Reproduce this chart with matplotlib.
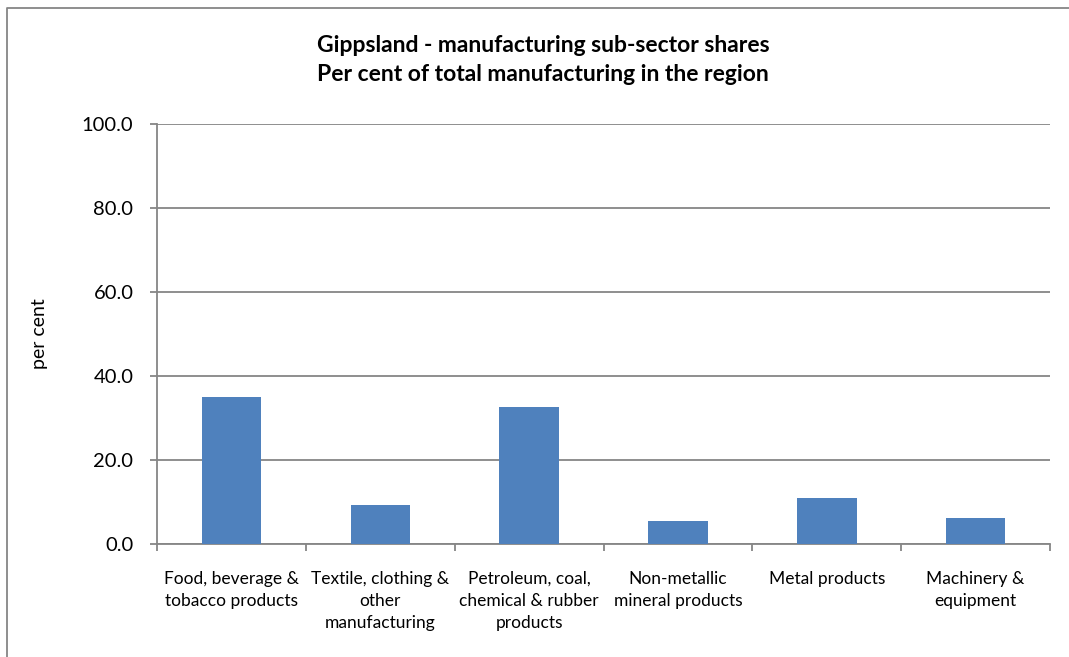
import matplotlib.pyplot as plt
import numpy as np
from matplotlib.lines import Line2D

# Manufacturing sub-sector shares, per cent of total
categories = [
    "Food, beverage &\ntobacco products",
    "Textile, clothing &\nother\nmanufacturing",
    "Petroleum, coal,\nchemical & rubber\nproducts",
    "Non-metallic\nmineral products",
    "Metal products",
    "Machinery &\nequipment",
]
shares = [35.0, 9.4, 32.6, 5.4, 11.0, 6.2]
yticks = [0.0, 20.0, 40.0, 60.0, 80.0, 100.0]

plt.rcParams["font.family"] = ["Lato", "DejaVu Sans"]
grey = "#868686"

fig = plt.figure(figsize=(10.69, 6.57), dpi=100)
ax = fig.add_axes([0.1469, 0.172, 0.8353, 0.6393])

# chart area border (left and top edges only in view)
bx, by = 7 / 1069, 1 - 8 / 657
fig.add_artist(Line2D([bx, bx, 1.0], [0.0, by, by], transform=fig.transFigure,
                      color=grey, linewidth=1.3))

x = np.arange(len(categories))
ax.bar(x, shares, width=0.4, color="#4F81BD", zorder=3)

ax.set_xlim(-0.5, len(categories) - 0.5)
ax.set_ylim(0, 100)
ax.set_yticks(yticks)
ax.set_yticklabels(["%.1f" % v for v in yticks], fontsize=14.5)
ax.yaxis.grid(True, color=grey, linewidth=1.3, zorder=0)

# ticks between categories, labels centred under bars
ax.set_xticks(np.arange(len(categories) + 1) - 0.5)
ax.set_xticklabels([])
ax.set_xticks(x, minor=True)
ax.set_xticklabels(categories, minor=True, fontsize=12.5, linespacing=1.45,
                   va="top")
ax.tick_params(axis="x", which="minor", length=0, pad=19.5)
ax.tick_params(axis="x", which="major", length=5, width=1.3, color=grey)
ax.tick_params(axis="y", length=5, width=1.3, color=grey, pad=12)

for side in ["top", "right"]:
    ax.spines[side].set_visible(False)
for side in ["left", "bottom"]:
    ax.spines[side].set_color(grey)
    ax.spines[side].set_linewidth(1.3)

ax.set_ylabel("per cent", fontsize=14, labelpad=24)
fig.text(0.508, 0.909,
         "Gippsland - manufacturing sub-sector shares\nPer cent of total manufacturing in the region",
         ha="center", va="center", fontsize=16.5, fontweight="bold",
         linespacing=1.5)

fig.savefig("out.png", dpi=100)
